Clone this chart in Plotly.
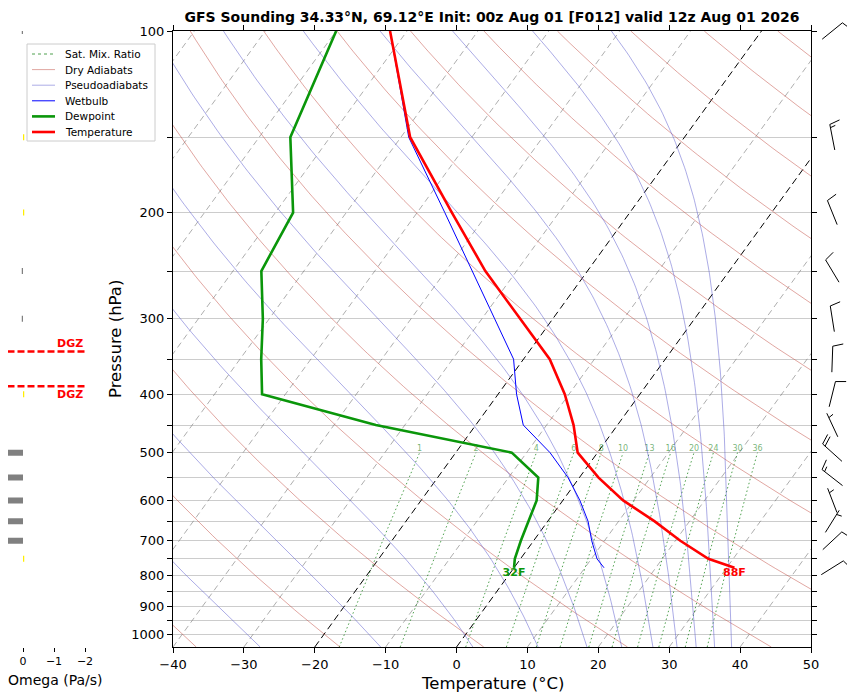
import numpy as np
import plotly.graph_objects as go

# ---- sounding values (hPa, degC) ----
pres = [100, 150, 200, 250, 300, 350, 400, 450, 500, 550, 600, 650, 700, 750, 776]
temp = [-72.4, -58.7, -45.1, -34.4, -24.6, -16.3, -10.6, -6.2, -2.8, 2.7, 8.5, 15.1, 20.7, 26.5, 31.1]
dewp = [-80.0, -75.6, -67.5, -66.0, -60.9, -57.0, -53.3, -34.1, -12.1, -5.8, -3.7, -2.7, -1.8, -0.8, 0.0]
wetb = [-72.4, -58.9, -46.1, -36.2, -28.2, -21.4, -17.4, -13.3, -6.7, -1.6, 2.4, 5.7, 8.2, 10.8, 12.7]

# winds (direction from, deg; speed, kt)
wind_p = [100, 150, 200, 250, 300, 350, 400, 450, 500, 550, 600, 650, 700, 776]
wind_dir = [51, 349, 338, 329, 351, 2, 14, 335, 312, 308, 339, 32, 47, 58]
wind_kt = [10, 15, 10, 10, 10, 10, 10, 5, 20, 15, 5, 5, 10, 10]

# omega (Pa/s)
omega_p = [100, 150, 200, 250, 300, 400, 500, 550, 600, 650, 700, 750]
omega = [0.04, -0.04, -0.04, 0.04, 0.04, -0.04, 0.6, 0.6, 0.6, 0.6, 0.6, -0.04]

dgz_p = [340, 388]

# background lines
isotherms = list(range(-160, 51, 10))
dry_theta = list(range(-100, 261, 20))      # degC at 1000 hPa
moist_t0 = [-27.7, -10.7, 2.3, 11.5, 18.4, 23.3, 27.7, 31.1, 33.8, 36.4, 38.8]  # degC at 1050 hPa
mix_w = [1, 2, 4, 6, 8, 10, 13, 16, 20, 24, 30, 36]   # g/kg

title = "GFS Sounding 34.33°N, 69.12°E Init: 00z Aug 01 [F012] valid 12z Aug 01 2026"

# page is 855x696, the html body adds an 8px margin around the plot div
W, H, OFF = 855, 696, 8
FW, FH = W - OFF, H - OFF
P_BOT, P_TOP = 1050, 100
T_MIN, T_MAX = -40, 50
SKEW = np.tan(np.radians(35)) * (T_MAX - T_MIN) / np.log10(P_BOT / P_TOP)
FONT = "DejaVu Sans"


def fx(x):
    return (x - OFF) / FW


def fy(y):
    return 1 - (y - OFF) / FH


# line styles
C_ISO = "rgba(120,120,120,0.6)"
C_MIX = "rgba(20,130,20,0.75)"
C_DRY = "rgba(195,80,70,0.5)"
C_MOIST = "rgba(90,90,205,0.5)"
C_WB = "#0000ff"
C_TD = "#0a960a"
C_T = "#ff0000"


def skew(t, p):
    return np.asarray(t, float) + SKEW * np.log10(P_BOT / np.asarray(p, float))


def sat_vp(tc):
    return 6.112 * np.exp(17.67 * tc / (tc + 243.5))


def moist_adiabat(t0, p):
    Rd, cp, Lv, eps = 287.04, 1005.7, 2.501e6, 0.622

    def dtdp(T, pp):
        es = sat_vp(T - 273.15)
        rs = eps * es / (pp - es)
        return (Rd * T + Lv * rs) / (pp * (cp + Lv * Lv * rs * eps / (Rd * T * T)))

    T = [t0 + 273.15]
    for i in range(1, len(p)):
        dp = p[i] - p[i - 1]
        k1 = dtdp(T[-1], p[i - 1])
        k2 = dtdp(T[-1] + k1 * dp, p[i])
        T.append(T[-1] + 0.5 * (k1 + k2) * dp)
    return np.array(T) - 273.15


def mix_temp(w, p):
    e = w / 1000 * p / (0.622 + w / 1000)
    a = np.log(e / 6.112)
    return 243.5 * a / (17.67 - a)


def join(segs):
    xs, ys = [], []
    for x, y in segs:
        xs += list(x) + [None]
        ys += list(y) + [None]
    return xs, ys


pp = np.geomspace(P_BOT, P_TOP, 150)
fig = go.Figure()

# isotherms
xs, ys = join([(skew([t, t], [P_BOT, P_TOP]), [P_BOT, P_TOP]) for t in isotherms if t not in (0, -20)])
fig.add_trace(go.Scatter(x=xs, y=ys, mode="lines", hoverinfo="skip",
                         line=dict(color=C_ISO, width=1, dash="6px,4px")))
xs, ys = join([(skew([t, t], [P_BOT, P_TOP]), [P_BOT, P_TOP]) for t in (0, -20)])
fig.add_trace(go.Scatter(x=xs, y=ys, mode="lines", hoverinfo="skip",
                         line=dict(color="black", width=1, dash="7px,4px")))

# mixing ratio lines
pm = np.geomspace(P_BOT, 500, 40)
xs, ys = join([(skew(mix_temp(w, pm), pm), pm) for w in mix_w])
fig.add_trace(go.Scatter(x=xs, y=ys, mode="lines", hoverinfo="skip",
                         line=dict(color=C_MIX, width=1, dash="1.5px,2.5px")))
fig.add_trace(go.Scatter(x=[float(skew(mix_temp(w, 500), 500)) for w in mix_w], y=[500] * len(mix_w),
                         mode="text", text=[str(w) for w in mix_w], textposition="top center",
                         textfont=dict(size=8, color="rgba(20,130,20,0.6)", family=FONT), hoverinfo="skip"))

# dry adiabats
xs, ys = join([(skew((th + 273.15) * (pp / 1000) ** 0.2857 - 273.15, pp), pp) for th in dry_theta])
fig.add_trace(go.Scatter(x=xs, y=ys, mode="lines", hoverinfo="skip", line=dict(color=C_DRY, width=1)))

# moist adiabats
xs, ys = join([(skew(moist_adiabat(t0, pp), pp), pp) for t0 in moist_t0])
fig.add_trace(go.Scatter(x=xs, y=ys, mode="lines", hoverinfo="skip", line=dict(color=C_MOIST, width=1)))

# profiles
fig.add_trace(go.Scatter(x=skew(wetb, pres), y=pres, mode="lines", line=dict(color=C_WB, width=1)))
fig.add_trace(go.Scatter(x=skew(dewp, pres), y=pres, mode="lines", line=dict(color=C_TD, width=2.6)))
fig.add_trace(go.Scatter(x=skew(temp, pres), y=pres, mode="lines", line=dict(color=C_T, width=2.6)))

# surface labels
fig.add_trace(go.Scatter(x=[float(skew(dewp[-1], pres[-1]))], y=[pres[-1]], mode="text",
                         text=["<b>%dF</b>" % round(dewp[-1] * 9 / 5 + 32)], textposition="bottom center",
                         textfont=dict(size=11, color=C_TD, family=FONT)))
fig.add_trace(go.Scatter(x=[float(skew(temp[-1], pres[-1]))], y=[pres[-1]], mode="text",
                         text=["<b>%dF</b>" % round(temp[-1] * 9 / 5 + 32)], textposition="bottom center",
                         textfont=dict(size=11, color=C_T, family=FONT)))

# omega panel
for sign, col in ((1, "#808080"), (-1, "#ffee00")):
    xs, ys = join([([0, w], [p, p]) for p, w in zip(omega_p, omega) if w * sign > 0])
    fig.add_trace(go.Scatter(x=xs, y=ys, xaxis="x2", yaxis="y2", mode="lines", line=dict(color=col, width=6)))
for p in dgz_p:
    fig.add_trace(go.Scatter(x=[0.5, -2], y=[p, p], xaxis="x2", yaxis="y2", mode="lines",
                             line=dict(color="#ff0000", width=2.5, dash="7px,3px")))

# wind barbs (pixel offsets around each level on a log-pressure axis)
ax_top, ax_bot = 31, 647
ppd = (ax_bot - ax_top) / np.log10(P_BOT / P_TOP)
CX, L = 21.3, 26.0


def barb(p, direction, speed):
    d = np.array([np.sin(np.radians(direction)), np.cos(np.radians(direction))])
    r = np.array([d[1], -d[0]])
    end = d * L / 2
    lines = [(-end, end)]
    full, half = divmod(int(round(speed / 5)), 2)
    sp = 0.125 * L
    off = 0.0
    for _ in range(full):
        b = end - d * off
        lines.append((b, b + r * 0.4 * L + d * 0.1 * L))
        off += sp
    if half:
        if off == 0:
            off = 1.5 * sp
        b = end - d * off
        lines.append((b, b + r * 0.2 * L + d * 0.05 * L))
    return [([CX + a[0], CX + b[0]], [p * 10 ** (-a[1] / ppd), p * 10 ** (-b[1] / ppd)]) for a, b in lines]


segs = []
for p, dr, s in zip(wind_p, wind_dir, wind_kt):
    segs += barb(p, dr, s)
xs, ys = join(segs)
fig.add_trace(go.Scatter(x=xs, y=ys, xaxis="x3", yaxis="y3", mode="lines", line=dict(color="black", width=1)))

# hand-built legend (matplotlib-style compact box)
leg_items = [("Sat. Mix. Ratio", C_MIX, 1, "dot"), ("Dry Adiabats", C_DRY, 1, "solid"),
             ("Pseudoadiabats", C_MOIST, 1, "solid"), ("Wetbulb", C_WB, 1, "solid"),
             ("Dewpoint", C_TD, 2.6, "solid"), ("Temperature", C_T, 2.6, "solid")]
shapes = [dict(type="rect", xref="paper", yref="paper", x0=fx(27), x1=fx(155), y0=fy(141), y1=fy(44),
               line=dict(color="#cccccc", width=1), fillcolor="rgba(255,255,255,0.85)", layer="above")]
annos = []
for i, (lab, col, lw, ds) in enumerate(leg_items):
    yy = fy(54 + i * 15.6)
    shapes.append(dict(type="line", xref="paper", yref="paper", x0=fx(32), x1=fx(55), y0=yy, y1=yy,
                       line=dict(color=col, width=lw, dash=ds), layer="above"))
    annos.append(dict(text=lab, x=fx(63), y=yy, xref="paper", yref="paper", xanchor="left", yanchor="middle",
                      showarrow=False, font=dict(size=10.5)))

ydom = [fy(ax_bot), fy(ax_top)]
yrange = [np.log10(P_BOT), np.log10(P_TOP)]
ptick = list(range(100, 1001, 50))
ptext = [str(p) if p % 100 == 0 else "" for p in ptick]
xt = list(range(T_MIN, T_MAX + 1, 10))

# omega axis: zero at x=23px, 31px per Pa/s, reversed, spanning 8..100.5px
om_zero, om_ppu, om_l, om_r = 23, 31, 8, 100.5
om_range = [(om_zero - om_l) / om_ppu, -(om_r - om_zero) / om_ppu]

annos += [
    dict(text="Temperature (°C)", x=fx(492), y=fy(683), xref="paper", yref="paper", xanchor="center",
         yanchor="middle", showarrow=False, font=dict(size=16.5)),
    dict(text="Pressure (hPa)", x=fx(115), y=fy(339), xref="paper", yref="paper", xanchor="center",
         yanchor="middle", showarrow=False, textangle=-90, font=dict(size=16.5)),
    dict(text="Omega (Pa/s)", x=fx(55), y=fy(680), xref="paper", yref="paper", xanchor="center",
         yanchor="middle", showarrow=False, font=dict(size=14)),
    dict(text="<b>DGZ</b>", x=-2, y=np.log10(dgz_p[0]), xref="x2", yref="y2", xanchor="right",
         yanchor="bottom", showarrow=False, font=dict(size=11, color="#ff0000")),
    dict(text="<b>DGZ</b>", x=-2, y=np.log10(dgz_p[1]), xref="x2", yref="y2", xanchor="right",
         yanchor="top", showarrow=False, font=dict(size=11, color="#ff0000")),
]

fig.update_traces(showlegend=False)
fig.update_layout(
    width=FW, height=FH, margin=dict(l=0, r=0, t=0, b=0, autoexpand=False),
    paper_bgcolor="white", plot_bgcolor="white", showlegend=False,
    font=dict(family=FONT, color="black"),
    title=dict(text="<b>" + title + "</b>", x=fx(492), xanchor="center", y=fy(17), yanchor="middle",
               font=dict(size=14, family=FONT)),
    xaxis=dict(domain=[fx(173), fx(811)], anchor="y", range=[T_MIN, T_MAX], tickvals=xt,
               ticktext=[str(t).replace("-", "−") for t in xt], showgrid=False, zeroline=False,
               showline=True, linecolor="black", linewidth=1, mirror="ticks", ticks="outside",
               ticklen=5, tickcolor="black", tickfont=dict(size=13), automargin=False),
    yaxis=dict(domain=ydom, anchor="x", type="log", range=yrange, tickvals=ptick, ticktext=ptext,
               showgrid=True, gridcolor="#cccccc", gridwidth=1, zeroline=False, showline=True,
               linecolor="black", linewidth=1, mirror="ticks", ticks="outside", ticklen=5,
               tickcolor="black", tickfont=dict(size=13), automargin=False),
    xaxis2=dict(domain=[fx(om_l), fx(om_r)], anchor="y2", range=om_range, tickvals=[0, -1, -2],
                ticktext=["0", "−1", "−2"], showgrid=False, zeroline=False, showline=False,
                ticks="outside", ticklen=4, tickcolor="black", tickfont=dict(size=11), automargin=False),
    yaxis2=dict(domain=ydom, anchor="x2", type="log", range=yrange, visible=False, automargin=False),
    xaxis3=dict(domain=[fx(811), 1], anchor="y3", range=[0, W - 811], visible=False, automargin=False),
    yaxis3=dict(domain=[0, 1], anchor="x3", type="log", automargin=False, visible=False,
                range=[np.log10(P_BOT) + (H - ax_bot) / ppd, np.log10(P_TOP) - (ax_top - OFF) / ppd]),
    shapes=shapes,
    annotations=annos,
)

fig.write_html("out.html")
